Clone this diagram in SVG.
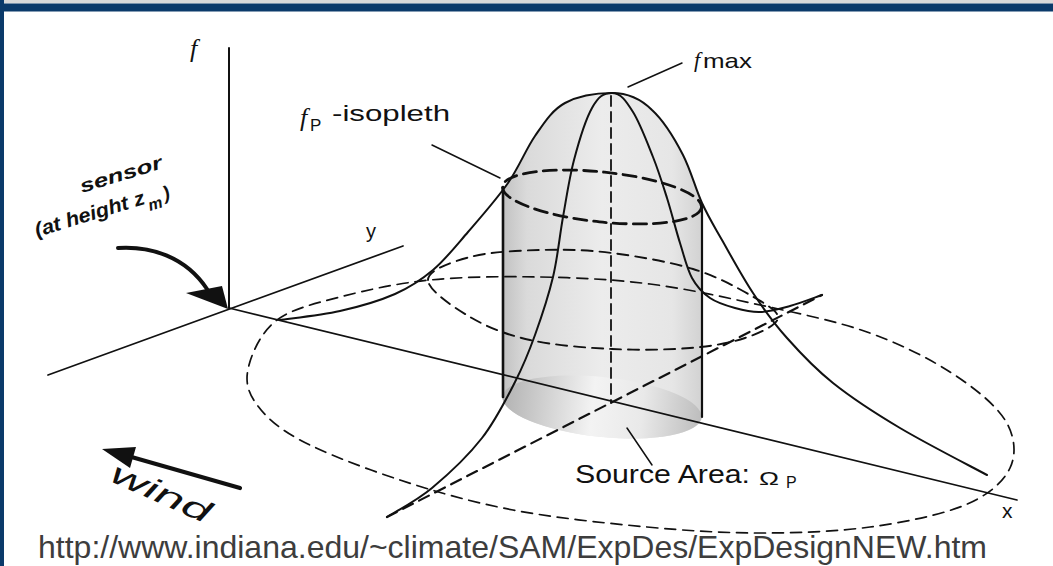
<svg xmlns="http://www.w3.org/2000/svg" width="1053" height="566" viewBox="0 0 1053 566">
<defs>
<style>
.ln{fill:none;stroke:#111;stroke-linecap:round;stroke-linejoin:round}
.ax{stroke-width:1.7}
.cv{stroke-width:2}
.d1{stroke-width:1.7;stroke-dasharray:11 7}
.d2{stroke-width:1.9;stroke-dasharray:11 7}
.d3{stroke-width:2.8;stroke-dasharray:13 7}
.dy{stroke-width:2.2;stroke-dasharray:11 7}
.dc{stroke-width:1.8;stroke-dasharray:10 6}
.lead{stroke-width:1.5}
.sans{font-family:"Liberation Sans",Arial,sans-serif;fill:#111}
.ital{font-family:"Liberation Serif","Times New Roman",serif;font-style:italic;fill:#111}
</style>
<linearGradient id="cyl" gradientUnits="userSpaceOnUse" x1="503" y1="0" x2="702" y2="0">
<stop offset="0" stop-color="#c2c2c2"/>
<stop offset="0.12" stop-color="#dadada"/>
<stop offset="0.5" stop-color="#ececec"/>
<stop offset="0.85" stop-color="#e6e6e6"/>
<stop offset="1" stop-color="#d2d2d2"/>
</linearGradient>
<linearGradient id="src" gradientUnits="userSpaceOnUse" x1="503" y1="0" x2="702" y2="0">
<stop offset="0" stop-color="#b3b3b3"/>
<stop offset="0.45" stop-color="#f3f3f3"/>
<stop offset="0.7" stop-color="#e9e9e9"/>
<stop offset="1" stop-color="#bdbdbd"/>
</linearGradient>
</defs>

<rect width="1053" height="566" fill="#ffffff"/>
<g id="frame">
<rect x="0" y="0" width="1053" height="3.5" fill="#d9d9d9"/>
<rect x="0" y="3.5" width="1053" height="8" fill="#0b3a6a"/>
<rect x="0" y="0" width="4" height="566" fill="#0b3a6a"/>
</g>

<g id="surface-fill">
<path d="M503,190 L508,183 C519,167.2 526,149 535,136 C544,123 552,110 565,103 C578,96 597,93 612,93 C627,93 641,99 652,110 C664,121 675.2,139.8 683,155 C690.8,170.2 695.5,188.8 702,203 L702,417 A100,30 6 0 1 502.5,396.5 Z" fill="url(#cyl)"/>
<ellipse id="source-area" cx="602" cy="407" rx="100" ry="30" transform="rotate(6 602 407)" fill="url(#src)"/>
</g>

<g id="contours">
<path class="ln d1" d="M277,320 C292.2,308.7 314.5,303.7 340,297 C365.5,290.3 396.7,283.3 430,280 C463.3,276.7 503.3,276.3 540,277 C576.7,277.7 613.3,279.3 650,284 C686.7,288.7 723.8,297 760,305 C796.2,313 835.3,320.8 867,332 C898.7,343.2 927,357.3 950,372 C973,386.7 995,404 1005,420 C1015,436 1016.7,453.8 1010,468 C1003.3,482.2 988.3,495.2 965,505 C941.7,514.8 904.2,522.3 870,527 C835.8,531.7 797.2,533 760,533 C722.8,533 688.2,530.8 647,527 C605.8,523.2 554.2,517.8 513,510 C471.8,502.2 435.5,491.7 400,480 C364.5,468.3 324.2,453 300,440 C275.8,427 263.5,414.5 255,402 C246.5,389.5 245.3,378.7 249,365 C252.7,351.3 261.8,331.3 277,320 Z"/>
<path class="ln d2" d="M428,280 C428,270 451.3,262 470,257 C488.7,252 516.3,250.7 540,250 C563.7,249.3 586.5,249.8 612,253 C637.5,256.2 670,262 693,269 C716,276 735.8,286.8 750,295 C764.2,303.2 778.8,310.8 778,318 C777.2,325.2 759.7,333 745,338 C730.3,343 712.2,346.2 690,348 C667.8,349.8 638.7,350.3 612,349 C585.3,347.7 553.7,345.3 530,340 C506.3,334.7 487,327 470,317 C453,307 428,290 428,280 Z"/>
<ellipse class="ln d3" cx="602" cy="197" rx="100" ry="25" transform="rotate(6 602 197)"/>
<line class="ln dy" x1="387" y1="517" x2="822" y2="295"/>
<line class="ln dc" x1="611" y1="96" x2="611" y2="403"/>
</g>

<g id="axes">
<line class="ln" stroke-width="2" x1="229" y1="48" x2="229" y2="308"/>
<line class="ln ax" x1="48" y1="375" x2="403" y2="246"/>
<line class="ln ax" x1="229" y1="308" x2="1017" y2="500"/>
</g>

<g id="surface-lines">
<path class="ln cv" d="M280,320 C290,318.5 320.8,315.3 340,311 C359.2,306.7 379.5,300.8 395,294 C410.5,287.2 420.8,280.3 433,270 C445.2,259.7 455.5,246.5 468,232 C480.5,217.5 497,198.8 508,183 C519,167.2 526,149 535,136 C544,123 552,110 565,103 C578,96 597,93 612,93 C627,93 641,99 652,110 C664,121 675.2,139.8 683,155 C690.8,170.2 695.5,188.8 702,203 C708.5,217.2 713.5,225 722,240 C730.5,255 742.2,276.7 753,293 C763.8,309.3 773.7,323 787,338 C800.3,353 814.2,368 833,383 C851.8,398 874.3,412.7 900,428 C925.7,443.3 972.5,467.2 987,475"/>
<path class="ln cv" d="M612,93 C603,93 598.3,96.8 592,108 C585.7,119.2 578.8,141.8 574,160 C569.2,178.2 566.5,197.5 563,217 C559.5,236.5 557.7,257.3 553,277 C548.3,296.7 541.3,317.5 535,335 C528.7,352.5 523.8,364.8 515,382 C506.2,399.2 495.8,420.3 482,438 C468.2,455.7 447.8,474.8 432,488 C416.2,501.2 394.5,512.2 387,517"/>
<path class="ln cv" d="M612,93 C621,93 626.2,101.3 633,112 C639.8,122.7 647.3,142.7 653,157 C658.7,171.3 662.5,183.7 667,198 C671.5,212.3 675.8,229.7 680,243 C684.2,256.3 687,268.8 692,278 C697,287.2 702.8,293 710,298 C717.2,303 726.7,305.7 735,308 C743.3,310.3 750.8,312.3 760,312 C769.2,311.7 779.7,308.8 790,306 C800.3,303.2 816.7,296.8 822,295"/>
<line class="ln" stroke-width="2.6" x1="503" y1="187" x2="503" y2="397"/>
<line class="ln" stroke-width="2.2" x1="702" y1="205" x2="702" y2="417"/>
</g>

<g id="connectors">
<line class="ln lead" x1="682" y1="63" x2="628" y2="87"/>
<line class="ln lead" x1="432" y1="145" x2="500" y2="178"/>
<line class="ln lead" x1="627" y1="428" x2="652" y2="465"/>
<path class="ln" stroke-width="4" d="M118,248 C150,246 185,256 207,289"/>
<polygon points="186,293 222,286 228,309" fill="#111"/>
<line class="ln" stroke-width="4.2" x1="240" y1="488" x2="128" y2="456"/>
<polygon points="102,449 136,447 130,468" fill="#111"/>
</g>

<g id="label-f-axis"><text class="ital" x="190" y="57" font-size="26">f</text></g>
<g id="label-fmax"><text class="ital" x="694" y="67" font-size="22">f</text><text class="sans" x="703" y="68" font-size="21" textLength="49" lengthAdjust="spacingAndGlyphs">max</text></g>
<g id="label-fp-isopleth"><text class="ital" x="300" y="126" font-size="26">f</text><text class="sans" x="310" y="131" font-size="17">P</text><text class="sans" x="332" y="121" font-size="22" textLength="118" lengthAdjust="spacingAndGlyphs">-isopleth</text></g>
<g id="label-sensor">
<text class="sans" font-style="italic" font-weight="bold" x="82" y="193" font-size="19" textLength="85" lengthAdjust="spacingAndGlyphs" transform="rotate(-17 82 193)">sensor</text>
<text class="sans" font-style="italic" font-weight="bold" x="37" y="237" font-size="20" textLength="114" lengthAdjust="spacingAndGlyphs" transform="rotate(-17 37 237)">(at height z</text>
<text class="sans" font-style="italic" font-weight="bold" x="150" y="211" font-size="16" transform="rotate(-17 150 211)">m</text>
<text class="sans" font-style="italic" font-weight="bold" x="165" y="200" font-size="19" transform="rotate(-17 165 200)">)</text>
</g>
<g id="label-y"><text class="sans" x="366" y="238" font-size="20">y</text></g>
<g id="label-x"><text class="sans" x="1002" y="518" font-size="21">x</text></g>
<g id="label-wind"><text class="sans" font-style="italic" x="157" y="502" font-size="30" text-anchor="middle" textLength="106" lengthAdjust="spacingAndGlyphs" transform="rotate(24 157 502)">wind</text></g>
<g id="label-source"><text class="sans" x="575" y="483" font-size="25" textLength="175" lengthAdjust="spacingAndGlyphs">Source Area:</text><text class="sans" x="759" y="485" font-size="19" textLength="20" lengthAdjust="spacingAndGlyphs">Ω</text><text class="sans" x="786" y="488" font-size="16">P</text></g>
<g id="label-url"><text class="sans" x="38" y="558" font-size="32" style="fill:#3d3d3d" textLength="949" lengthAdjust="spacingAndGlyphs">http://www.indiana.edu/~climate/SAM/ExpDes/ExpDesignNEW.htm</text></g>
</svg>
